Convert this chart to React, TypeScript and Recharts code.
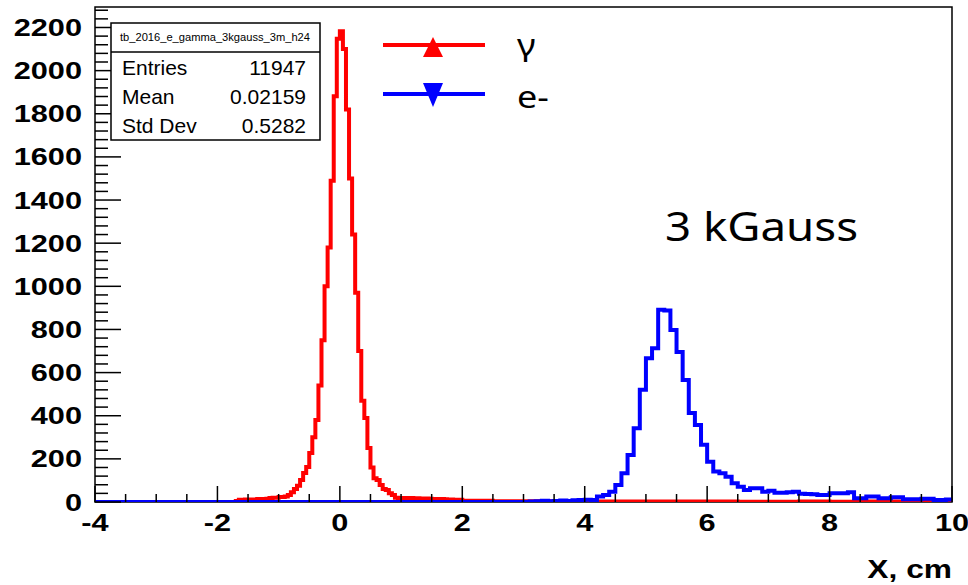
import { LineChart, Line, XAxis, YAxis, ReferenceArea, Legend } from "recharts";

// gamma histogram, fine bins (0.05 cm) around the peak, from -2 to 2
const gammaPeakStart = -2;
const gammaPeakBin = 0.05;
const gammaPeakCounts = [
  0, 0, 0, 0, 0, 0, 5, 10, 10, 12, 10, 12, 12, 14, 12, 14, 15, 18, 20, 20,
  23, 23, 25, 32, 45, 60, 75, 102, 135, 162, 227, 300, 380, 540, 750, 1000, 1180, 1490, 1881, 2148,
  2182, 2100, 1820, 1500, 1240, 970, 700, 470, 390, 250, 160, 110, 102, 79, 60, 56, 40, 32, 20, 19,
  18, 18, 17, 18, 16, 17, 16, 15, 16, 15, 14, 14, 13, 14, 13, 12, 12, 11, 10, 10,
];
// gamma tail, coarse bins (0.5 cm) from 2 to 10
const gammaTailStart = 2;
const gammaTailBin = 0.5;
const gammaTailCounts = [6, 4, 3, 3, 2, 2, 2, 2, 2, 1, 1, 2, 1, 2, 2, 1];

// electron histogram, 0.1 cm bins from 3 to 10
const elecStart = 3;
const elecBin = 0.1;
const elecCounts = [
  0, 2, 4, 6, 3, 5, 7, 5, 8, 9,
  10, 9, 25, 32, 48, 79, 133, 218, 342, 520,
  667, 713, 891, 888, 798, 695, 566, 413, 357, 265,
  187, 141, 133, 117, 87, 71, 56, 64, 64, 48,
  52, 43, 43, 45, 48, 38, 37, 36, 32, 32,
  40, 40, 40, 45, 17, 17, 25, 25, 17, 17,
  22, 22, 13, 13, 13, 15, 15, 9, 9, 12,
];

const seriesNames = ["γ", "e-"];
const xMajorTicks = [-4, -2, 0, 2, 4, 6, 8, 10];
const yMajorTicks = [0, 200, 400, 600, 800, 1000, 1200, 1400, 1600, 1800, 2000, 2200];
const yMax = 2295;

const statsTitle = "tb_2016_e_gamma_3kgauss_3m_h24";
const statsRows = [
  ["Entries", "11947"],
  ["Mean", "0.02159"],
  ["Std Dev", "0.5282"],
];
const fieldNote = "3 kGauss";

const xTicks = xMajorTicks.flatMap((t, i) =>
  i < xMajorTicks.length - 1 ? [t, t + 0.5, t + 1, t + 1.5] : [t]
);
const yTicks = yMajorTicks.flatMap((t) => [t, t + 40, t + 80, t + 120, t + 160]).filter((t) => t < yMax);

const gammaData = [
  { x: -4, n: 0 },
  ...gammaPeakCounts.map((n, i) => ({ x: gammaPeakStart + i * gammaPeakBin, n })),
  ...gammaTailCounts.map((n, i) => ({ x: gammaTailStart + i * gammaTailBin, n })),
  { x: 10, n: gammaTailCounts[gammaTailCounts.length - 1] },
];
const elecData = [
  { x: -4, n: 0 },
  ...elecCounts.map((n, i) => ({ x: elecStart + i * elecBin, n })),
  { x: 10, n: elecCounts[elecCounts.length - 1] },
];

const axisFont = '"Liberation Sans", Arial, Helvetica, sans-serif';
const noteFont = '"Noto Sans", "Open Sans", sans-serif';

function XTick(props: any) {
  const { x, y, payload } = props;
  const major = xMajorTicks.includes(payload.value);
  return (
    <g>
      <line x1={x} x2={x} y1={y} y2={y - (major ? 16 : 8)} stroke="#000" strokeWidth={1.5} />
      {major && (
        <text
          transform={`translate(${x},${y + 29}) scale(1.28,1)`}
          textAnchor="middle"
          fontSize={24}
          fontWeight="bold"
          fontFamily={axisFont}
          fill="#000"
        >
          {payload.value}
        </text>
      )}
    </g>
  );
}

function YTick(props: any) {
  const { x, y, payload } = props;
  const major = yMajorTicks.includes(payload.value);
  return (
    <g>
      <line x1={x} x2={x + (major ? 26 : 13)} y1={y} y2={y} stroke="#000" strokeWidth={1.5} />
      {major && (
        <text
          transform={`translate(${x - 13},${y + 8.5}) scale(1.28,1)`}
          textAnchor="end"
          fontSize={24}
          fontWeight="bold"
          fontFamily={axisFont}
          fill="#000"
        >
          {payload.value}
        </text>
      )}
    </g>
  );
}

function AxisTitle(props: any) {
  const { viewBox } = props;
  return (
    <text
      transform={`translate(${viewBox.x + viewBox.width},${viewBox.y + 76}) scale(1.22,1)`}
      textAnchor="end"
      fontSize={26}
      fontWeight="bold"
      fontFamily={axisFont}
      fill="#000"
    >
      X, cm
    </text>
  );
}

function HistLegend(props: any) {
  const payload: any[] = props.payload || [];
  const ordered = seriesNames
    .map((name) => payload.find((p) => p.value === name))
    .filter(Boolean);
  return (
    <svg width={200} height={100}>
      {ordered.map((entry: any, i: number) => {
        const y = 20 + i * 49;
        const tri =
          i === 0
            ? `${58},${y - 8} ${48},${y + 12} ${68},${y + 12}`
            : `${48},${y - 11} ${68},${y - 11} ${58},${y + 13}`;
        return (
          <g key={entry.value}>
            <line x1={8} x2={110} y1={y} y2={y} stroke={entry.color} strokeWidth={4} />
            <polygon points={tri} fill={entry.color} />
            <text
              transform={`translate(142,${y + (i === 0 ? 11 : 14)}) scale(1.2,1)`}
              fontSize={30}
              fontFamily={noteFont}
              fill="#000"
            >
              {entry.value}
            </text>
          </g>
        );
      })}
    </svg>
  );
}

export default function App() {
  return (
    <div style={{ position: "absolute", left: 0, top: 0, width: 968, height: 585, background: "#fff" }}>
      <LineChart width={968} height={585} margin={{ top: 7, right: 16, bottom: 0, left: 0 }}>
        <XAxis
          type="number"
          dataKey="x"
          domain={[-4, 10]}
          ticks={xTicks}
          interval={0}
          allowDataOverflow
          height={83}
          tickSize={0}
          tickMargin={0}
          axisLine={false}
          tickLine={false}
          tick={(p: any) => <XTick {...p} />}
          label={{ value: "X, cm", content: (p: any) => <AxisTitle {...p} /> }}
        />
        <YAxis
          type="number"
          domain={[0, yMax]}
          ticks={yTicks}
          interval={0}
          allowDataOverflow
          width={95}
          tickSize={0}
          tickMargin={0}
          axisLine={false}
          tickLine={false}
          tick={(p: any) => <YTick {...p} />}
        />
        <ReferenceArea x1={-4} x2={10} y1={0} y2={yMax} fill="none" stroke="#000" strokeWidth={1.5} />
        <Line
          data={gammaData}
          dataKey="n"
          name={seriesNames[0]}
          type="stepAfter"
          stroke="#ff0000"
          strokeWidth={4}
          dot={false}
          activeDot={false}
          isAnimationActive={false}
        />
        <Line
          data={elecData}
          dataKey="n"
          name={seriesNames[1]}
          type="stepAfter"
          stroke="#0000ff"
          strokeWidth={4}
          dot={false}
          activeDot={false}
          isAnimationActive={false}
        />
        <Legend
          layout="horizontal"
          verticalAlign="middle"
          align="center"
          content={(p: any) => <HistLegend {...p} />}
          wrapperStyle={{ top: 25, left: 375, width: 200, height: 100 }}
        />
      </LineChart>
      <svg
        width={968}
        height={585}
        style={{ position: "absolute", left: 0, top: 0, pointerEvents: "none" }}
      >
        <rect x={111} y={23} width={209} height={117} fill="#fff" stroke="#000" strokeWidth={1.5} />
        <line x1={111} x2={320} y1={52} y2={52} stroke="#000" strokeWidth={1.5} />
        <text
          x={215}
          y={41}
          textAnchor="middle"
          fontSize={10}
          fontFamily={axisFont}
          textLength={190}
          lengthAdjust="spacingAndGlyphs"
          fill="#000"
        >
          {statsTitle}
        </text>
        {statsRows.map(([label, value], i) => (
          <g key={label}>
            <text x={122} y={75 + i * 29} fontSize={21} fontFamily={axisFont} fill="#000">
              {label}
            </text>
            <text x={306} y={75 + i * 29} textAnchor="end" fontSize={21} fontFamily={axisFont} fill="#000">
              {value}
            </text>
          </g>
        ))}
        <text
          x={665}
          y={241}
          fontSize={40}
          fontFamily={noteFont}
          textLength={193}
          lengthAdjust="spacingAndGlyphs"
          fill="#000"
        >
          {fieldNote}
        </text>
      </svg>
    </div>
  );
}
